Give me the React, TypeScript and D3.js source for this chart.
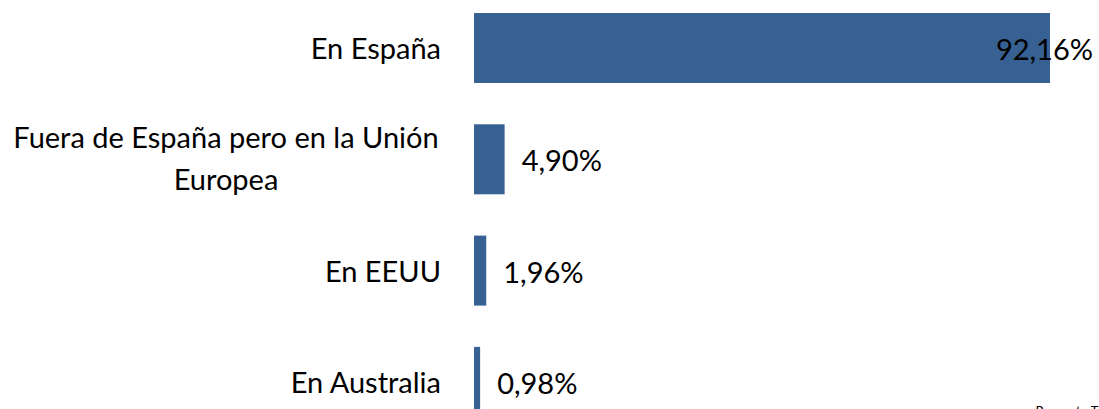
import React from "react";
import * as d3 from "d3";

const categories: string[][] = [
  ["En España"],
  ["Fuera de España pero en la Unión", "Europea"],
  ["En EEUU"],
  ["En Australia"],
];
const values: number[] = [92.16, 4.9, 1.96, 0.98];
const valueLabels: string[] = ["92,16%", "4,90%", "1,96%", "0,98%"];
const footer = "Pregunta T";

const W = 1099;
const H = 409;
const FONT = "Lato, 'Open Sans', sans-serif";
const FS = 29;

export default function App() {
  const step = 111.3;
  const bw = 70;
  const y0 = 13 - (step - bw) / 2;
  const ids = categories.map((_, i) => String(i));
  const y = d3
    .scaleBand<string>()
    .domain(ids)
    .range([y0, y0 + step * ids.length])
    .paddingInner((step - bw) / step)
    .paddingOuter((step - bw) / step / 2);
  const x = d3.scaleLinear().domain([0, 100]).range([474, 1099]);
  const fmtW = (s: string) => s.length * 0.5 * FS;

  return (
    <svg
      width={W}
      height={H}
      style={{ position: "absolute", left: 0, top: 0, display: "block" }}
    >
      <rect x={0} y={0} width={W} height={H} fill="#ffffff" />
      {values.map((v, i) => {
        const yy = y(String(i))!;
        const cy = yy + y.bandwidth() / 2;
        const lines = categories[i];
        const lh = 42;
        const labelEnd = x(v) + 17;
        const overflow = labelEnd + fmtW(valueLabels[i]) > 1093;
        return (
          <g key={i}>
            <rect
              x={x(0)}
              y={yy}
              width={x(v) - x(0)}
              height={y.bandwidth()}
              fill="#386193"
            />
            {lines.length > 1 ? (
              <text
                fontFamily={FONT}
                fontSize={FS}
                fill="#000"
                textAnchor="middle"
              >
                {lines.map((l, j) => (
                  <tspan
                    key={j}
                    x={226}
                    y={cy + (j - (lines.length - 1) / 2) * lh}
                    dy="0.35em"
                  >
                    {l}
                  </tspan>
                ))}
              </text>
            ) : (
              <text
                x={441}
                y={cy + 1}
                dy="0.35em"
                fontFamily={FONT}
                fontSize={FS}
                textAnchor="end"
                fill="#000"
              >
                {lines[0]}
              </text>
            )}
            <text
              x={overflow ? 1093 : labelEnd}
              y={cy + 2}
              dy="0.35em"
              fontFamily={FONT}
              fontSize={FS}
              textAnchor={overflow ? "end" : "start"}
              fill="#000"
            >
              {valueLabels[i]}
            </text>
          </g>
        );
      })}
      <text
        x={1035}
        y={416}
        fontFamily={FONT}
        fontSize={14}
        fontStyle="italic"
        fill="#000"
      >
        {footer}
      </text>
    </svg>
  );
}
